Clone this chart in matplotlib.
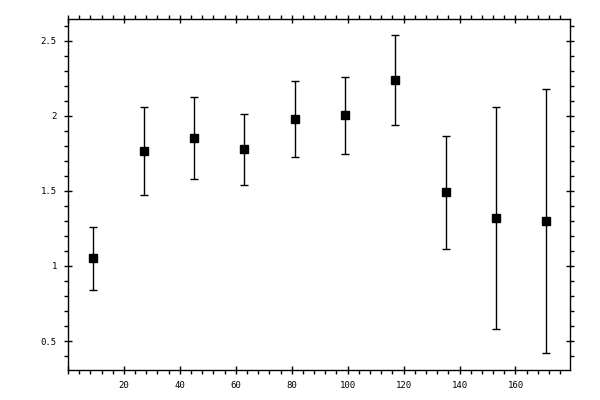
import numpy as np
import matplotlib
matplotlib.use('Agg')
from matplotlib import pyplot as plt
from matplotlib.ticker import MultipleLocator

# data
x = [9, 27, 45, 63, 81, 99, 117, 135, 153, 171]
y = [1.051, 1.765, 1.851, 1.778, 1.978, 2.005, 2.238, 1.491, 1.318, 1.298]
yerr = [0.21, 0.293, 0.274, 0.236, 0.252, 0.256, 0.302, 0.377, 0.74, 0.88]

plt.rcParams['font.family'] = ['DejaVu Sans Mono']

fig = plt.figure(figsize=(6, 4), dpi=100)
ax = fig.add_axes([68 / 600, 30 / 400, 502 / 600, 351 / 400])

ax.errorbar(x, y, yerr=yerr, fmt='s', color='black', ms=5.8,
            elinewidth=1.0, capsize=2.8, capthick=1.0)

ax.set_xlim(0, 179.5)
ax.set_ylim(0.307, 2.645)

ax.xaxis.set_major_locator(MultipleLocator(20))
ax.xaxis.set_minor_locator(MultipleLocator(4))
ax.yaxis.set_major_locator(MultipleLocator(0.5))
ax.yaxis.set_minor_locator(MultipleLocator(0.1))
ax.xaxis.set_major_formatter(plt.FuncFormatter(lambda v, p: '' if v == 0 else '%g' % v))
ax.yaxis.set_major_formatter(plt.FuncFormatter(lambda v, p: '%g' % v))

ax.tick_params(which='major', direction='inout', length=6, width=1,
               top=True, right=True, labelsize=6.5, pad=5)
ax.tick_params(which='minor', direction='out', length=3, width=1,
               top=True, right=True)
for s in ax.spines.values():
    s.set_linewidth(1)

fig.savefig('out.png', dpi=100)
